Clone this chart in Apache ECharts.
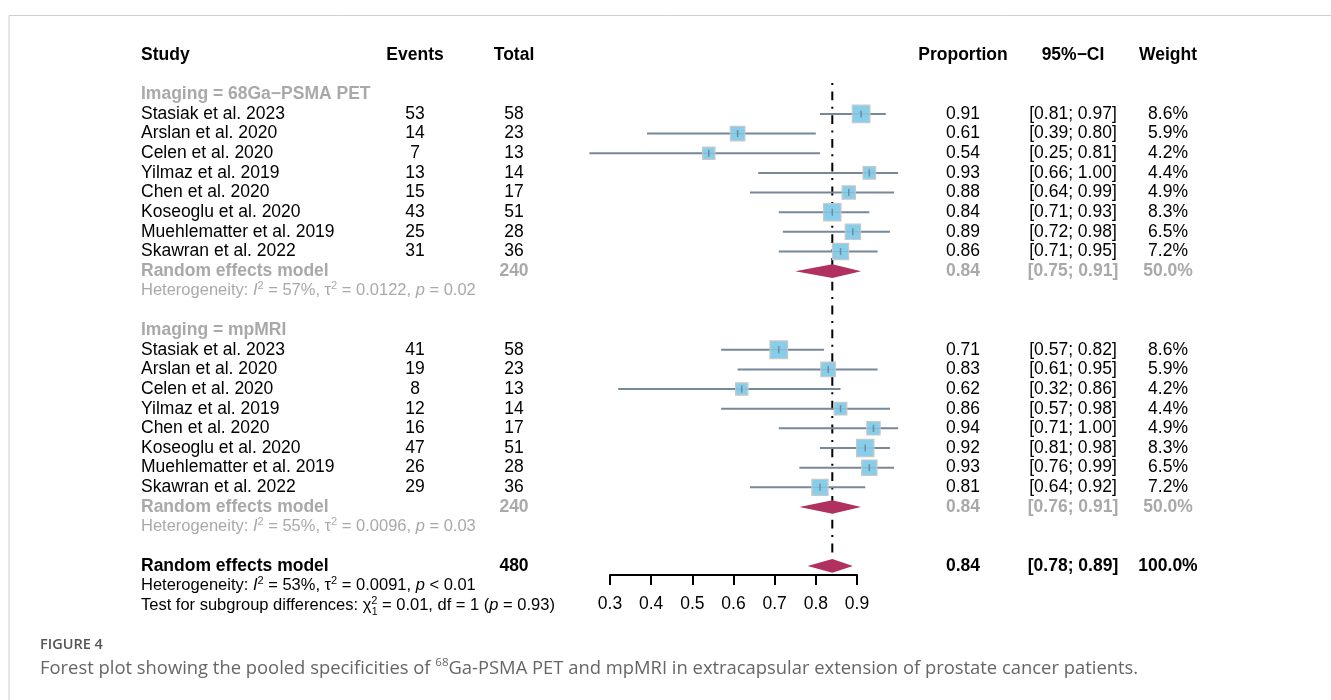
<!DOCTYPE html>
<html><head><meta charset="utf-8">
<script src="https://cdn.jsdelivr.net/npm/echarts@6/dist/echarts.min.js"></script>
<style>html,body{margin:0;padding:0;background:#fff}#c{width:1331px;height:700px}</style>
</head><body><div id="c"></div>
<script>
// ---------- data ----------
const studies = ['Stasiak et al. 2023','Arslan et al. 2020','Celen et al. 2020','Yilmaz et al. 2019','Chen et al. 2020','Koseoglu et al. 2020','Muehlematter et al. 2019','Skawran et al. 2022'];
const groupLabels = ['Imaging = 68Ga\u2212PSMA PET', 'Imaging = mpMRI'];
const petEvents = [53,14,7,13,15,43,25,31];
const petTotal  = [58,23,13,14,17,51,28,36];
const petProp   = [0.91,0.61,0.54,0.93,0.88,0.84,0.89,0.86];
const petLower  = [0.81,0.39,0.25,0.66,0.64,0.71,0.72,0.71];
const petUpper  = [0.97,0.80,0.81,1.00,0.99,0.93,0.98,0.95];
const petWeight = [8.6,5.9,4.2,4.4,4.9,8.3,6.5,7.2];
const mriEvents = [41,19,8,12,16,47,26,29];
const mriTotal  = [58,23,13,14,17,51,28,36];
const mriProp   = [0.71,0.83,0.62,0.86,0.94,0.92,0.93,0.81];
const mriLower  = [0.57,0.61,0.32,0.57,0.71,0.81,0.76,0.64];
const mriUpper  = [0.82,0.95,0.86,0.98,1.00,0.98,0.99,0.92];
const mriWeight = [8.6,5.9,4.2,4.4,4.9,8.3,6.5,7.2];
// pooled: [estimate, lower, upper]
const petPooled = [0.84,0.75,0.91];
const mriPooled = [0.84,0.76,0.91];
const allPooled = [0.84,0.78,0.89];
const pooledTotal  = [240,240,480];
const pooledWeight = [50.0,50.0,100.0];
const hetI2   = ['57%','55%','53%'];
const hetTau2 = ['0.0122','0.0096','0.0091'];
const hetP    = ['= 0.02','= 0.03','< 0.01'];
const subgroupTest = {chi2:'0.01', df:'1', p:'= 0.93'};
const xTicks = [0.3,0.4,0.5,0.6,0.7,0.8,0.9];

// ---------- layout / style ----------
const FONT = "'Liberation Sans', Arial, sans-serif";
const FS = 17.5, FS_HET = 16.5;
const GRAY = '#a9a9a9';
const ROW_TOP = 55, ROW_H = 19.65, AXIS_Y = 575;
const COLX = {study:141, events:415, total:514, prop:963, ci:1073, weight:1168};
const COLALIGN = {study:'left', events:'center', total:'center', prop:'center', ci:'center', weight:'center'};
const SQ_K = 6.0;

// rows
const cells = [];
function cell(row,col,text,opt){ cells.push(Object.assign({row,col,text},opt||{})); }
const hdr = {bold:true};
cell(0,'study','Study',hdr); cell(0,'events','Events',hdr); cell(0,'total','Total',hdr);
cell(0,'prop','Proportion',hdr); cell(0,'ci','95%\u2212CI',hdr); cell(0,'weight','Weight',hdr);

const ciRows = [], diamonds = [];
function fmtCI(l,u){ return '[' + l.toFixed(2) + '; ' + u.toFixed(2) + ']'; }
function hetText(k){
  return 'Heterogeneity: {it|I}{sup|2} = ' + hetI2[k] + ', \u03c4{sup|2} = ' + hetTau2[k] + ', {it|p} ' + hetP[k];
}
function addGroup(startRow, k, ev, tot, pr, lo, up, wt, pooled){
  cell(startRow,'study',groupLabels[k],{bold:true,color:GRAY});
  studies.forEach((s,i)=>{
    const r = startRow+1+i;
    cell(r,'study',s); cell(r,'events',String(ev[i])); cell(r,'total',String(tot[i]));
    cell(r,'prop',pr[i].toFixed(2)); cell(r,'ci',fmtCI(lo[i],up[i])); cell(r,'weight',wt[i].toFixed(1)+'%');
    ciRows.push([pr[i],lo[i],up[i],r,wt[i]]);
  });
  const rr = startRow+1+studies.length;
  const g = {bold:true,color:GRAY};
  cell(rr,'study','Random effects model',g); cell(rr,'total',String(pooledTotal[k]),g);
  cell(rr,'prop',pooled[0].toFixed(2),g); cell(rr,'ci',fmtCI(pooled[1],pooled[2]),g);
  cell(rr,'weight',pooledWeight[k].toFixed(1)+'%',g);
  diamonds.push([pooled[0],pooled[1],pooled[2],rr]);
  cell(rr+1,'study',hetText(k),{color:GRAY, fs:FS_HET});
}
addGroup(2,0,petEvents,petTotal,petProp,petLower,petUpper,petWeight,petPooled);
addGroup(14,1,mriEvents,mriTotal,mriProp,mriLower,mriUpper,mriWeight,mriPooled);
const ob = {bold:true};
cell(26,'study','Random effects model',ob); cell(26,'total',String(pooledTotal[2]),ob);
cell(26,'prop',allPooled[0].toFixed(2),ob); cell(26,'ci',fmtCI(allPooled[1],allPooled[2]),ob);
cell(26,'weight',pooledWeight[2].toFixed(1)+'%',ob);
diamonds.push([allPooled[0],allPooled[1],allPooled[2],26]);
cell(27,'study',hetText(2),{fs:FS_HET});
const testPre = 'Test for subgroup differences: \u03c7';
cell(28,'study',testPre + '{sup|2} = ' + subgroupTest.chi2 + ', df = ' + subgroupTest.df + ' ({it|p} ' + subgroupTest.p + ')',{chi:true, fs:FS_HET});

const REF_TOP = 1.42, REF_BOTTOM = 25.6;

// measure helper
const mctx = document.createElement('canvas').getContext('2d');
function textW(t,fs){ mctx.font = fs+'px '+FONT; return mctx.measureText(t).width; }

const richStyles = function(color, fs){
  return {
    it: {fontStyle:'italic', fontSize:fs, fontFamily:FONT, fill:color, lineHeight:20},
    sup:{fontSize:11, fontFamily:FONT, fill:color, verticalAlign:'top', lineHeight:13}
  };
};

const chart = echarts.init(document.getElementById('c'), null, {renderer:'canvas'});
chart.setOption({
  animation:false,
  backgroundColor:'#fff',
  grid:{left:610, top:ROW_TOP, width:247, height:AXIS_Y-ROW_TOP, outerBoundsMode:'none'},
  xAxis:{
    type:'value', min:xTicks[0], max:xTicks[xTicks.length-1], interval:0.1,
    position:'bottom',
    axisLine:{show:true, onZero:false, lineStyle:{color:'#000', width:2}},
    axisTick:{show:true, length:10, lineStyle:{color:'#000', width:2}},
    axisLabel:{margin:20, color:'#000', fontSize:FS, fontFamily:FONT,
      formatter:v=>{ const i = xTicks.findIndex(t=>Math.abs(t-v)<1e-6); return i>=0 ? xTicks[i].toFixed(1) : ''; }},
    splitLine:{show:false}
  },
  yAxis:{type:'value', inverse:true, min:0, max:(AXIS_Y-ROW_TOP)/ROW_H, show:false,
    axisLine:{show:false}, splitLine:{show:false}, axisTick:{show:false}, axisLabel:{show:false}},
  graphic:[
    {type:'rect', left:6.5, top:13, shape:{width:1323, height:720}, style:{fill:'none', stroke:'#cfcfcf', lineWidth:1}, silent:true},
    {type:'text', left:40, top:637, style:{text:'FIGURE 4', font:"600 14.5px 'Open Sans', sans-serif", fill:'#555'}},
    {type:'text', left:40, top:657, style:{
      text:'Forest plot showing the pooled specificities of {sup|68}Ga-PSMA PET and mpMRI in extracapsular extension of prostate cancer patients.',
      font:"18.4px 'Open Sans', sans-serif", fill:'#666', lineHeight:24,
      rich:{sup:{fontSize:11.5, fontFamily:"'Open Sans', sans-serif", fill:'#666', verticalAlign:'top', lineHeight:14}}}}
  ],
  series:[
    { // reference line
      type:'custom', silent:true, clip:false, z:1,
      encode:{x:0, y:[1,2]},
      data:[[allPooled[0], REF_TOP, REF_BOTTOM]],
      renderItem:(p,api)=>{
        const a = api.coord([api.value(0), api.value(1)]);
        const b = api.coord([api.value(0), api.value(2)]);
        return {type:'line', shape:{x1:a[0],y1:a[1],x2:b[0],y2:b[1]},
          style:{stroke:'#000', lineWidth:2, lineDash:[2,6.5,8.8,6.5], lineCap:'butt'}};
      }
    },
    { // study CIs + squares
      type:'custom', silent:true, clip:false, z:2,
      encode:{x:[0,1,2], y:3},
      data:ciRows,
      renderItem:(p,api)=>{
        const r = api.value(3);
        const c = api.coord([api.value(0), r]);
        const l = api.coord([api.value(1), r]);
        const h = api.coord([api.value(2), r]);
        const s = SQ_K*Math.sqrt(api.value(4));
        return {type:'group', children:[
          {type:'line', shape:{x1:l[0],y1:c[1],x2:h[0],y2:c[1]}, style:{stroke:'#778899', lineWidth:2}},
          {type:'rect', shape:{x:c[0]-s/2, y:c[1]-s/2, width:s, height:s}, style:{fill:'#87CEEB', stroke:'#c8c8c8', lineWidth:1.2}},
          {type:'line', shape:{x1:c[0]-s/2,y1:c[1],x2:c[0]+s/2,y2:c[1]}, style:{stroke:'#778899', lineWidth:1, opacity:0.3}},
          {type:'line', shape:{x1:c[0],y1:c[1]-3.5,x2:c[0],y2:c[1]+3.5}, style:{stroke:'#778899', lineWidth:1.5}}
        ]};
      }
    },
    { // pooled diamonds
      type:'custom', silent:true, clip:false, z:3,
      encode:{x:[0,1,2], y:3},
      data:diamonds,
      renderItem:(p,api)=>{
        const r = api.value(3);
        const c = api.coord([api.value(0), r]);
        const l = api.coord([api.value(1), r]);
        const h = api.coord([api.value(2), r]);
        return {type:'polygon', shape:{points:[[l[0],c[1]],[c[0],c[1]-6.8],[h[0],c[1]],[c[0],c[1]+6.8]]},
          style:{fill:'#B03060'}};
      }
    },
    { // table text
      type:'custom', silent:true, clip:false, z:4,
      encode:{x:0, y:1},
      data:cells.map((c,i)=>[xTicks[0], c.row, i]),
      renderItem:(p,api)=>{
        const c = cells[p.dataIndex];
        const y = api.coord([xTicks[0], api.value(1)])[1];
        const color = c.color || '#000';
        const fs = c.fs || FS;
        const els = [{type:'text', style:{
          x:COLX[c.col], y:y, text:c.text, align:COLALIGN[c.col], verticalAlign:'middle',
          font:(c.bold?'bold ':'')+fs+'px '+FONT, fill:color, lineHeight:20, rich:richStyles(color, fs)}}];
        if (c.chi){
          els.push({type:'text', style:{x:COLX.study + textW(testPre,fs) + 0.5, y:y+7, text:'1', align:'left', verticalAlign:'middle',
            font:'10.5px '+FONT, fill:color}});
        }
        return {type:'group', children:els};
      }
    }
  ]
});
</script></body></html>
